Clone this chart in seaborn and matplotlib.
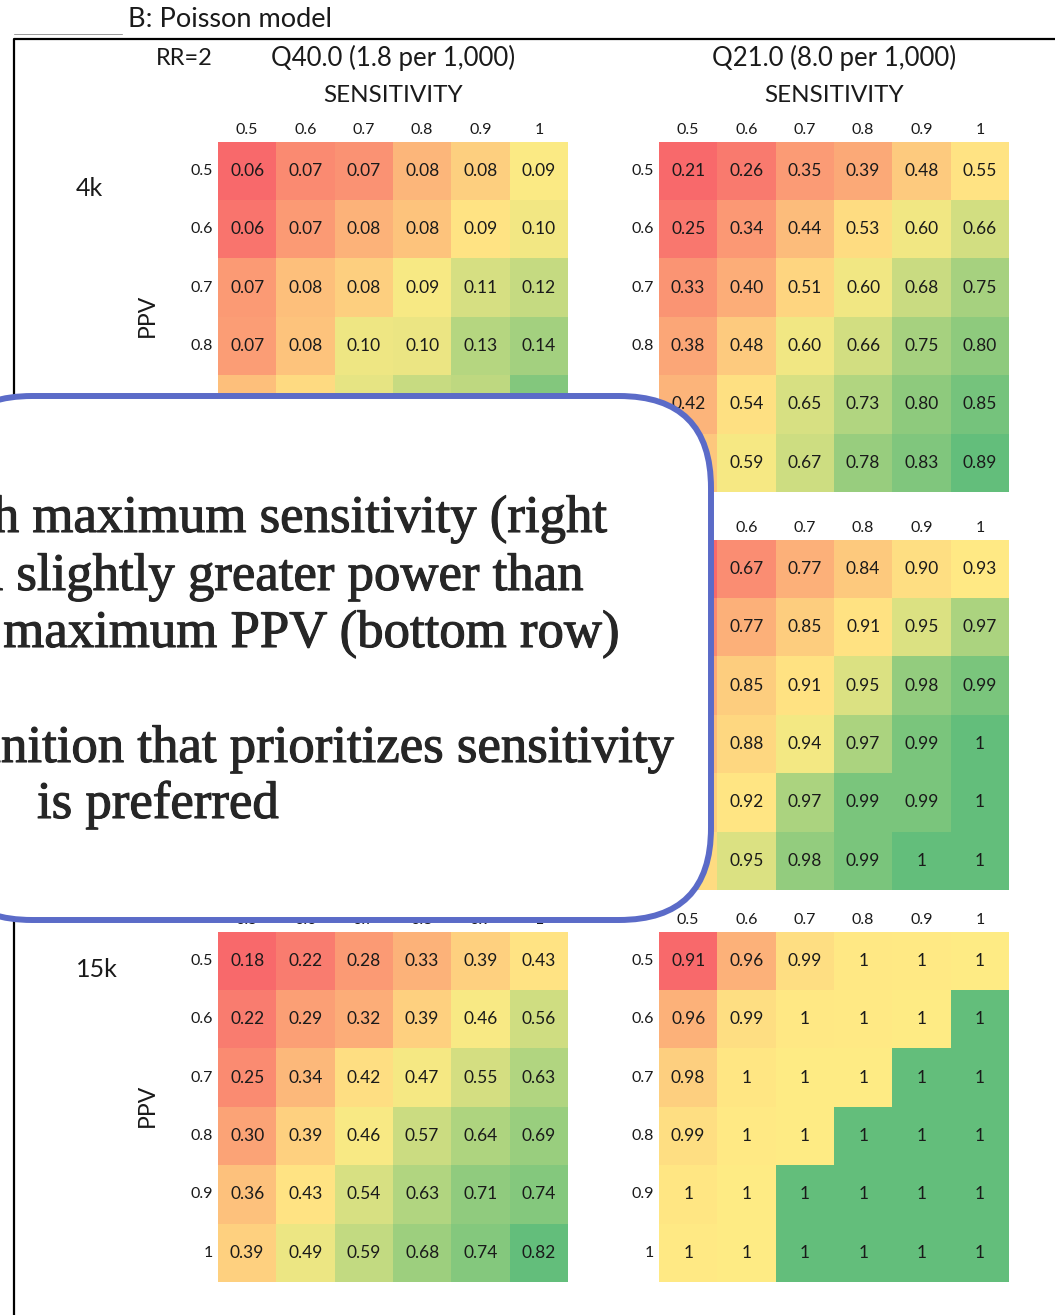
"""Power heatmaps (Poisson model) with the callout box laid over them."""

import numpy as np
import pandas as pd
import seaborn as sns
import matplotlib
matplotlib.use("Agg")
import matplotlib.pyplot as plt
import matplotlib.patheffects as pe
from matplotlib.colors import LinearSegmentedColormap, TwoSlopeNorm
from matplotlib.patches import FancyBboxPatch
from matplotlib.lines import Line2D

# ---- data -------------------------------------------------------------
sens_labels = ["0.5", "0.6", "0.7", "0.8", "0.9", "1"]
ppv_labels = ["0.5", "0.6", "0.7", "0.8", "0.9", "1"]
size_labels = ["4k", "8k", "15k"]
outcome_titles = ["Q40.0 (1.8 per 1,000)", "Q21.0 (8.0 per 1,000)"]

# rows = PPV, columns = sensitivity; cells under the callout are estimates
q40_4k = [
    [0.058, 0.066, 0.068, 0.077, 0.083, 0.092],
    [0.061, 0.070, 0.076, 0.080, 0.088, 0.096],
    [0.070, 0.079, 0.083, 0.094, 0.110, 0.118],
    [0.071, 0.080, 0.098, 0.100, 0.126, 0.135],
    [0.079, 0.086, 0.102, 0.117, 0.122, 0.150],
    [0.082, 0.095, 0.112, 0.130, 0.148, 0.166],
]
q21_4k = [
    [0.21, 0.26, 0.35, 0.39, 0.48, 0.55],
    [0.25, 0.34, 0.44, 0.53, 0.60, 0.66],
    [0.33, 0.40, 0.51, 0.60, 0.68, 0.75],
    [0.38, 0.48, 0.60, 0.66, 0.75, 0.80],
    [0.42, 0.54, 0.65, 0.73, 0.80, 0.85],
    [0.47, 0.59, 0.67, 0.78, 0.83, 0.89],
]
q40_8k = [
    [0.10, 0.12, 0.14, 0.16, 0.18, 0.20],
    [0.12, 0.14, 0.17, 0.19, 0.22, 0.25],
    [0.13, 0.16, 0.19, 0.23, 0.26, 0.29],
    [0.15, 0.18, 0.22, 0.26, 0.30, 0.33],
    [0.17, 0.20, 0.25, 0.29, 0.33, 0.37],
    [0.18, 0.22, 0.27, 0.32, 0.36, 0.40],
]
q21_8k = [
    [0.57, 0.67, 0.77, 0.84, 0.90, 0.93],
    [0.66, 0.77, 0.85, 0.91, 0.95, 0.97],
    [0.75, 0.85, 0.91, 0.95, 0.98, 0.99],
    [0.80, 0.88, 0.94, 0.97, 0.99, 1.0],
    [0.85, 0.92, 0.97, 0.99, 0.99, 1.0],
    [0.89, 0.95, 0.98, 0.99, 1.0, 1.0],
]
q40_15k = [
    [0.18, 0.22, 0.28, 0.33, 0.39, 0.43],
    [0.22, 0.29, 0.32, 0.39, 0.46, 0.56],
    [0.25, 0.34, 0.42, 0.47, 0.55, 0.63],
    [0.30, 0.39, 0.46, 0.57, 0.64, 0.69],
    [0.36, 0.43, 0.54, 0.63, 0.71, 0.74],
    [0.39, 0.49, 0.59, 0.68, 0.74, 0.82],
]
# cells shown as "1" but coloured yellow are just under 1
q21_15k = [
    [0.91, 0.96, 0.99, 0.997, 0.998, 0.999],
    [0.96, 0.99, 0.997, 0.998, 0.999, 1.0],
    [0.98, 0.996, 0.999, 0.999, 1.0, 1.0],
    [0.99, 0.998, 0.999, 1.0, 1.0, 1.0],
    [0.996, 0.999, 1.0, 1.0, 1.0, 1.0],
    [0.998, 0.999, 1.0, 1.0, 1.0, 1.0],
]

panels = [
    [q40_4k, q21_4k],
    [q40_8k, q21_8k],
    [q40_15k, q21_15k],
]

callout_lines = [
    "Definition with maximum sensitivity (right",
    "column) has a slightly greater power than",
    "definition with maximum PPV (bottom row)",
    "Definition that prioritizes sensitivity",
]
callout_last = "is preferred"

# ---- style ------------------------------------------------------------
sns.set_style("white")
plt.rcParams["font.family"] = ["Lato", "DejaVu Sans"]

W, H = 1055, 1315
excel_cmap = LinearSegmentedColormap.from_list(
    "excel3", ["#F8696B", "#FFEB84", "#63BE7B"])
TXT = "#1a1a1a"

# callout box (pixels from top-left)
BOX_X0, BOX_X1, BOX_Y0, BOX_Y1, BOX_R = -60, 711, 396, 920, 92

col_x = [218, 659]
row_y = [141.5, 539.5, 931.5]
size_label_y = [188, 580, 969]
PW, PH = 350, 350.5


def px_rect(x0, y0, w, h):
    return [x0 / W, 1 - (y0 + h) / H, w / W, h / H]


def under_box(x, y, m=6):
    """True if pixel point lies well inside the rounded callout box."""
    x0, x1, y0, y1, r = BOX_X0 + m, BOX_X1 - m, BOX_Y0 + m, BOX_Y1 - m, BOX_R - m
    if not (x0 <= x <= x1 and y0 <= y <= y1):
        return False
    cx = x1 - r
    if x > cx:
        if y < y0 + r:
            return np.hypot(x - cx, y - (y0 + r)) <= r
        if y > y1 - r:
            return np.hypot(x - cx, y - (y1 - r)) <= r
    return True


def cell_label(v):
    return "1" if round(v, 2) >= 1 else f"{v:.2f}"


def draw_panel(ax, values, x0, y0):
    df = pd.DataFrame(values, index=ppv_labels, columns=sens_labels)
    arr = df.to_numpy()
    norm = TwoSlopeNorm(vmin=arr.min(), vcenter=np.median(arr), vmax=arr.max())
    labels = np.array([[cell_label(v) for v in row] for row in arr])
    sns.heatmap(df, ax=ax, cmap=excel_cmap, norm=norm, annot=labels, fmt="",
                cbar=False, linewidths=0,
                annot_kws={"fontsize": 12.5, "color": TXT})
    # drop the numbers that the callout hides
    for t in list(ax.texts):
        tx, ty = t.get_position()
        if under_box(x0 + tx * PW / 6, y0 + ty * PH / 6):
            t.remove()
    locs = np.arange(6) + 0.5
    xt = [s if not under_box(x0 + (i + 0.5) * PW / 6, y0 - 13) else ""
          for i, s in enumerate(sens_labels)]
    yt = [s if not under_box(x0 - 10, y0 + (i + 0.5) * PH / 6) else ""
          for i, s in enumerate(ppv_labels)]
    ax.set_xticks(locs, xt, rotation=0)
    ax.set_yticks(locs, yt, rotation=0)
    ax.xaxis.tick_top()
    ax.tick_params(axis="x", length=0, labelsize=11.5, pad=3, colors=TXT)
    ax.tick_params(axis="y", length=0, labelsize=11.5, pad=3.5, colors=TXT)
    ax.set_xlabel("")
    ax.set_ylabel("")


fig = plt.figure(figsize=(W / 100, H / 100), dpi=100)

for r, row_panels in enumerate(panels):
    for c, vals in enumerate(row_panels):
        ax = fig.add_axes(px_rect(col_x[c], row_y[r], PW, PH))
        draw_panel(ax, vals, col_x[c], row_y[r])

# ---- overlay: labels, frame and callout -------------------------------
ov = fig.add_axes([0, 0, 1, 1], zorder=10)
ov.set_xlim(0, W)
ov.set_ylim(H, 0)
ov.axis("off")
ov.patch.set_alpha(0)

ov.text(128, 19, "B: Poisson model", fontsize=19.5, color=TXT, ha="left", va="center")
ov.add_line(Line2D([14, 122], [34, 34], color="#9a9a9a", lw=0.7))
ov.add_line(Line2D([14, 14, W], [H, 38.5, 38.5], color="black", lw=1.6, zorder=1))

ov.text(184, 58, "RR=2", fontsize=17, color=TXT, ha="center", va="center")
for c, title in enumerate(outcome_titles):
    cx = col_x[c] + PW / 2
    ov.text(cx, 58, title, fontsize=18.5, color=TXT, ha="center", va="center")
    ov.text(cx, 95, "SENSITIVITY", fontsize=17.5, color=TXT, ha="center", va="center")

for r, lab in enumerate(size_labels):
    if under_box(90, size_label_y[r]):
        continue
    ov.text(76, size_label_y[r], lab, fontsize=18, color=TXT, ha="left",
            va="center", zorder=2)
    ov.text(147, row_y[r] + 174, "PPV", fontsize=16.5, color=TXT, ha="center",
            va="center", rotation=90, zorder=2)

box = FancyBboxPatch((BOX_X0, BOX_Y0), BOX_X1 - BOX_X0, BOX_Y1 - BOX_Y0,
                     boxstyle=f"round,pad=0,rounding_size={BOX_R}",
                     fc="white", ec="#5B6BC8", lw=4.3, zorder=5)
ov.add_patch(box)

serif = ["Liberation Serif", "DejaVu Serif"]
heavier = [pe.withStroke(linewidth=0.8, foreground="#262626")]
line_ends = [(607, 532), (583, 590), (620, 647), (673, 762)]
for txt, (xe, yb) in zip(callout_lines, line_ends):
    ov.text(xe, yb, txt, family=serif, fontsize=38, color="#262626",
            ha="right", va="baseline", zorder=6, path_effects=heavier)
ov.text(37, 818, callout_last, family=serif, fontsize=38, color="#262626",
        ha="left", va="baseline", zorder=6, path_effects=heavier)

fig.savefig("out.png", dpi=100)
